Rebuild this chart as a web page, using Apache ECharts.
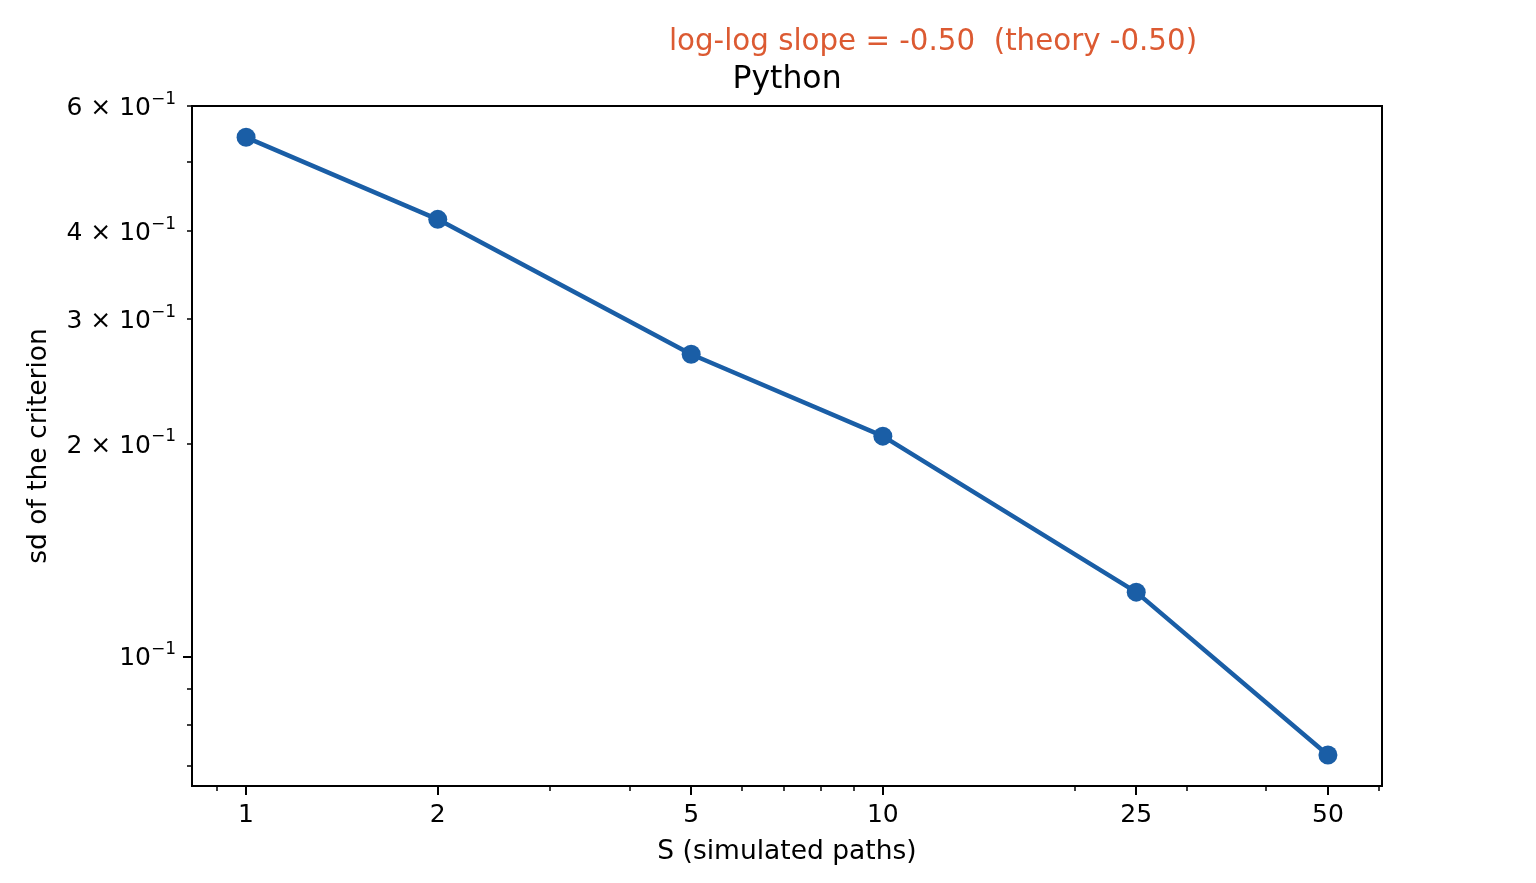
<!DOCTYPE html>
<html>
<head>
<meta charset="utf-8">
<script src="https://cdn.jsdelivr.net/npm/echarts@6/dist/echarts.min.js"></script>
<style>html,body{margin:0;padding:0;background:#fff}#c{width:1536px;height:883px}</style>
</head>
<body>
<div id="c"></div>
<script>
// ---- data ----
const S = [1, 2, 5, 10, 25, 50];
const sdCriterion = [0.542, 0.415, 0.2675, 0.2049, 0.1233, 0.07255];
const xMajorTicks = [1, 2, 5, 10, 25, 50];
const xMinorTicks = [0.9, 3, 4, 6, 7, 8, 9, 20, 30, 40, 60];
const yLabelTicks = [0.1, 0.2, 0.3, 0.4, 0.6];
const yMajorTicks = [0.1];
const yMinorTicks = [0.07, 0.08, 0.09, 0.2, 0.3, 0.4, 0.5, 0.6];
const xRange = [0.8224, 60.8];
const yRange = [0.0656, 0.6002];
const suptitleText = 'log-log slope = -0.50  (theory -0.50)';
const titleText = 'Python';
const xName = 'S (simulated paths)';
const yName = 'sd of the criterion';

const FONT = 'DejaVu Sans';
const chart = echarts.init(document.getElementById('c'));

function yLabelFmt(v) {
  const e = Math.floor(Math.log10(v) + 1e-9);
  const m = Math.round(v / Math.pow(10, e));
  const sup = '\u2212' + Math.abs(e);
  if (m === 1) return '{n|10}{s|' + sup + '}';
  return '{n|' + m + ' \u00d7 10}{s|' + sup + '}';
}

const baseX = {
  type: 'log', logBase: 10, min: xRange[0], max: xRange[1], position: 'bottom',
  splitLine: {show: false}, axisLine: {show: false}
};
const baseY = {
  type: 'log', logBase: 10, min: yRange[0], max: yRange[1], position: 'left',
  splitLine: {show: false}, axisLine: {show: false}
};

chart.setOption({
  animation: false,
  backgroundColor: '#fff',
  grid: {left: 192, right: 154, top: 106, bottom: 97, show: true, borderColor: '#000', borderWidth: 2, backgroundColor: 'transparent'},
  graphic: [
    {type: 'text', x: 933, y: 42, style: {text: suptitleText, font: '29.3px "DejaVu Sans"', fill: '#dc5a32', textAlign: 'center', textVerticalAlign: 'middle'}},
    {type: 'text', x: 787, y: 80, style: {text: titleText, font: '31.5px "DejaVu Sans"', fill: '#000', textAlign: 'center', textVerticalAlign: 'middle'}}
  ],
  xAxis: [
    Object.assign({}, baseX, {
      name: xName, nameLocation: 'middle', nameGap: 53,
      nameTextStyle: {fontFamily: FONT, fontSize: 26.5, color: '#000'},
      axisTick: {show: true, length: 9, lineStyle: {color: '#000', width: 2}, customValues: xMajorTicks},
      axisLabel: {show: true, customValues: xMajorTicks, margin: 17, fontFamily: FONT, fontSize: 25, color: '#000',
        formatter: v => String(Math.round(v))}
    }),
    Object.assign({}, baseX, {
      axisTick: {show: true, length: 5, lineStyle: {color: '#000', width: 1.5}, customValues: xMinorTicks},
      axisLabel: {show: false}
    })
  ],
  yAxis: [
    Object.assign({}, baseY, {
      name: yName, nameLocation: 'middle', nameGap: 139,
      nameTextStyle: {fontFamily: FONT, fontSize: 26.5, color: '#000'},
      axisTick: {show: true, length: 9, lineStyle: {color: '#000', width: 2}, customValues: yMajorTicks},
      axisLabel: {show: true, customValues: yLabelTicks, margin: 16, color: '#000',
        formatter: yLabelFmt,
        rich: {
          n: {fontFamily: FONT, fontSize: 25, color: '#000', lineHeight: 30, verticalAlign: 'bottom'},
          s: {fontFamily: FONT, fontSize: 17, color: '#000', lineHeight: 17, verticalAlign: 'top'}
        }}
    }),
    Object.assign({}, baseY, {
      axisTick: {show: true, length: 5, lineStyle: {color: '#000', width: 1.5}, customValues: yMinorTicks},
      axisLabel: {show: false}
    })
  ],
  series: [{
    type: 'line', xAxisIndex: 0, yAxisIndex: 0,
    data: S.map((s, i) => [s, sdCriterion[i]]),
    symbol: 'circle', symbolSize: 19, showSymbol: true,
    lineStyle: {color: '#1a5ea6', width: 4.5},
    itemStyle: {color: '#1a5ea6'},
    z: 5
  }]
});
</script>
</body>
</html>
